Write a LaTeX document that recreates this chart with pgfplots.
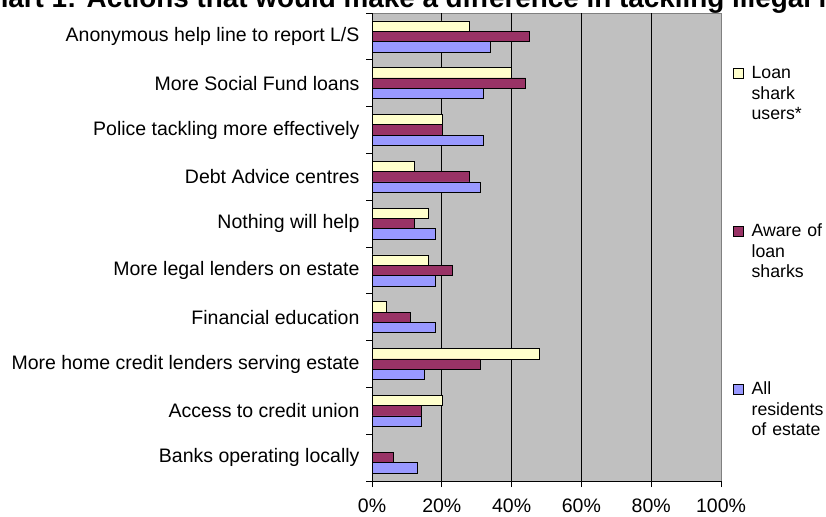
\documentclass[border=0pt]{standalone}
\usepackage{fontspec}
\setmainfont{Liberation Sans}
\usepackage{pgfplots}
\pgfplotsset{compat=1.18}
\definecolor{lsy}{HTML}{FFFFCC}
\definecolor{lsm}{HTML}{993366}
\definecolor{lsb}{HTML}{9999FF}
\definecolor{bg}{HTML}{C0C0C0}
\definecolor{bord}{HTML}{808080}
\begin{document}
\begin{tikzpicture}
\useasboundingbox (0,0) rectangle (826pt,516pt);
\node[anchor=base west, inner sep=0pt, font=\bfseries\fontsize{27.85}{30}\selectfont] at (-29pt,508pt) {Chart 1: Actions that would make a difference in tackling illegal lending};
\begin{axis}[
 at={(372pt,35pt)}, anchor=south west, scale only axis, width=349pt, height=468pt,
 xbar, bar width=0.222,
 xmin=0, xmax=100, ymin=-0.5, ymax=9.5,
 axis background/.style={fill=bg, draw=bord, line width=0.8pt},
 axis x line*=bottom, axis y line*=left,
 axis line style={black, line width=0.8pt},
 xtick={0,20,40,60,80,100}, xticklabels={0\%,20\%,40\%,60\%,80\%,100\%},
 ytick={-0.5,0.5,1.5,2.5,3.5,4.5,5.5,6.5,7.5,8.5,9.5}, y tick label as interval,
 yticklabels={Banks operating locally, Access to credit union, More home credit lenders serving estate, Financial education, More legal lenders on estate, Nothing will help, Debt Advice centres, Police tackling more effectively, More Social Fund loans, Anonymous help line to report L/S},
 tick align=outside, major tick length=6pt, tick style={black, line width=0.8pt},
 extra x ticks={20,40,60,80}, extra x tick labels={}, extra x tick style={grid=major, major tick length=0pt},
 grid style={black, line width=0.8pt},
 tick label style={font=\fontsize{19.5}{22}\selectfont},
 xticklabel style={yshift=-8pt},
 yticklabel style={xshift=-3pt},
 legend cell align=left,
 legend style={at={(1.0344,0.9658)}, anchor=north west, draw=none, fill=none, inner sep=0pt, outer sep=0pt, row sep=58pt, column sep=8pt,
   nodes={inner sep=0pt, text width=80pt, align=left, text height=50pt, text depth=50pt, font=\fontsize{17.7}{20.4}\selectfont}},
]
\addplot[fill=lsy, draw=black, line width=0.6pt, bar shift=0.222,
  legend image code/.code={\draw[fill=lsy,draw=black,line width=0.6pt] (0pt,0.5pt) rectangle (10pt,10.5pt);}]
  coordinates {(0,0) (20,1) (48,2) (4,3) (16,4) (16,5) (12,6) (20,7) (40,8) (28,9)};
\addlegendentry{Loan\\shark\\users*}
\addplot[fill=lsm, draw=black, line width=0.6pt, bar shift=0,
  legend image code/.code={\draw[fill=lsm,draw=black,line width=0.6pt] (0pt,0.5pt) rectangle (10pt,10.5pt);}]
  coordinates {(6,0) (14,1) (31,2) (11,3) (23,4) (12,5) (28,6) (20,7) (44,8) (45,9)};
\addlegendentry{Aware of\\loan\\sharks}
\addplot[fill=lsb, draw=black, line width=0.6pt, bar shift=-0.222,
  legend image code/.code={\draw[fill=lsb,draw=black,line width=0.6pt] (0pt,0.5pt) rectangle (10pt,10.5pt);}]
  coordinates {(13,0) (14,1) (15,2) (18,3) (18,4) (18,5) (31,6) (32,7) (32,8) (34,9)};
\addlegendentry{All\\residents\\of estate}
\end{axis}
\end{tikzpicture}
\end{document}
